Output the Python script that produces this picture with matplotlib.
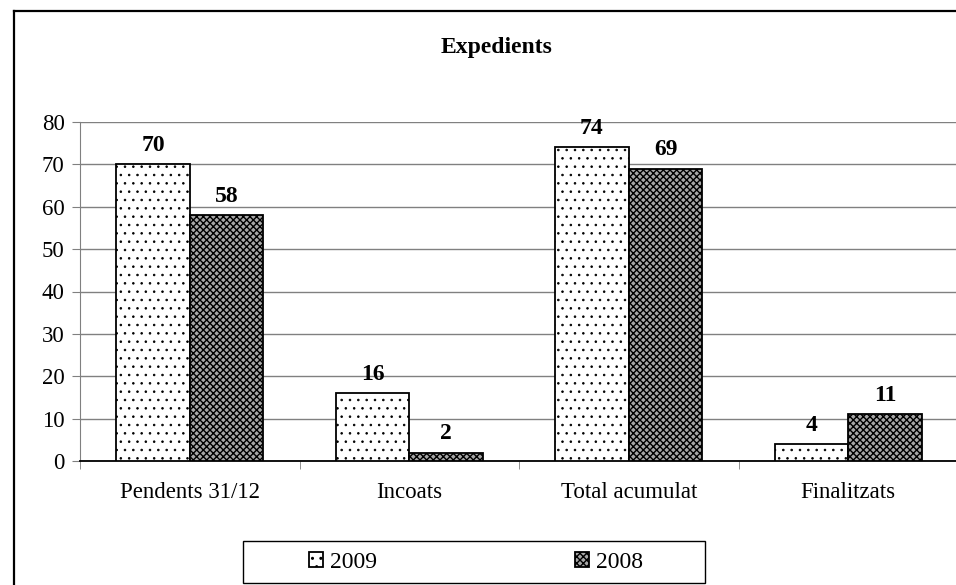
import matplotlib
matplotlib.use("Agg")
import matplotlib.pyplot as plt
import numpy as np
from matplotlib.patches import Rectangle
from matplotlib.lines import Line2D

categories = ["Pendents 31/12", "Incoats", "Total acumulat", "Finalitzats"]
series_names = ["2009", "2008"]
values_2009 = [70, 16, 74, 4]
values_2008 = [58, 2, 69, 11]
yticks = [0, 10, 20, 30, 40, 50, 60, 70, 80]

plt.rcParams['font.family'] = ['Liberation Serif', 'DejaVu Serif']

W, H = 956, 585
fig = plt.figure(figsize=(W/100, H/100), dpi=100)
ax = fig.add_axes([80/W, 1-461/H, 878/W, (461-122)/H])

x = np.arange(len(categories))
w = 0.335

dot_style = dict(facecolor='white', edgecolor='black', linewidth=1.3, hatch='..')
chk_style = dict(facecolor='#a8a8a8', edgecolor='black', linewidth=1.3, hatch='xxxxx')

plt.rcParams['hatch.color'] = '#9a9a9a'
plt.rcParams['hatch.linewidth'] = 0.6
b1 = ax.bar(x - w/2, values_2009, w, zorder=3, **dot_style)
h1 = Rectangle((0, 0), 1, 1, **dot_style)
plt.rcParams['hatch.color'] = 'black'
plt.rcParams['hatch.linewidth'] = 1.0
b2 = ax.bar(x + w/2, values_2008, w, zorder=3, **chk_style)
h2 = Rectangle((0, 0), 1, 1, **chk_style)

for bars, vals in ((b1, values_2009), (b2, values_2008)):
    for r, v in zip(bars, vals):
        ax.text(r.get_x() + r.get_width()/2, v + 2.0, str(v), ha='center', va='bottom',
                fontsize=17, fontweight='bold')

ax.set_xlim(-0.5, 3.5)
ax.set_ylim(0, 80)
ax.set_yticks(yticks)
ax.set_yticklabels([str(t) for t in yticks], fontsize=16.5)
ax.yaxis.grid(True, color='#808080', linewidth=1.0, zorder=0)
ax.set_axisbelow(True)
ax.set_xticks(x)
ax.set_xticklabels(categories, fontsize=16.5)
ax.tick_params(axis='x', length=0, pad=15)
ax.set_xticks(np.arange(len(categories) + 1) - 0.5, minor=True)
ax.tick_params(axis='x', which='minor', length=6, color='#808080', direction='out')
ax.tick_params(axis='y', length=6, color='#808080', direction='out', pad=5)
for s in ('top', 'right'):
    ax.spines[s].set_visible(False)
ax.spines['left'].set_color('#808080')
ax.spines['bottom'].set_color('black')
ax.spines['bottom'].set_linewidth(1.3)

fig.text(497/W, 1-47/H, "Expedients", ha='center', va='center', fontsize=17,
         fontweight='bold')

# outer frame
fig.add_artist(Line2D([13.5/W, 13.5/W], [0, 1-11/H], transform=fig.transFigure,
                      color='black', linewidth=1.6))
fig.add_artist(Line2D([13.5/W, 1], [1-11/H, 1-11/H], transform=fig.transFigure,
                      color='black', linewidth=1.6))

# legend box
fig.add_artist(Rectangle((243/W, 1-583/H), (705-243)/W, (583-541)/H,
                         transform=fig.transFigure, facecolor='white',
                         edgecolor='black', linewidth=1.0))
leg = fig.legend([h1, h2], series_names, loc='center', bbox_to_anchor=(476/W, 1-562/H),
                 ncol=2, fontsize=17, frameon=False, handlelength=0.6,
                 handleheight=0.6, handletextpad=0.3, columnspacing=8.4,
                 borderpad=0, borderaxespad=0)

fig.savefig("out.png", dpi=100)
